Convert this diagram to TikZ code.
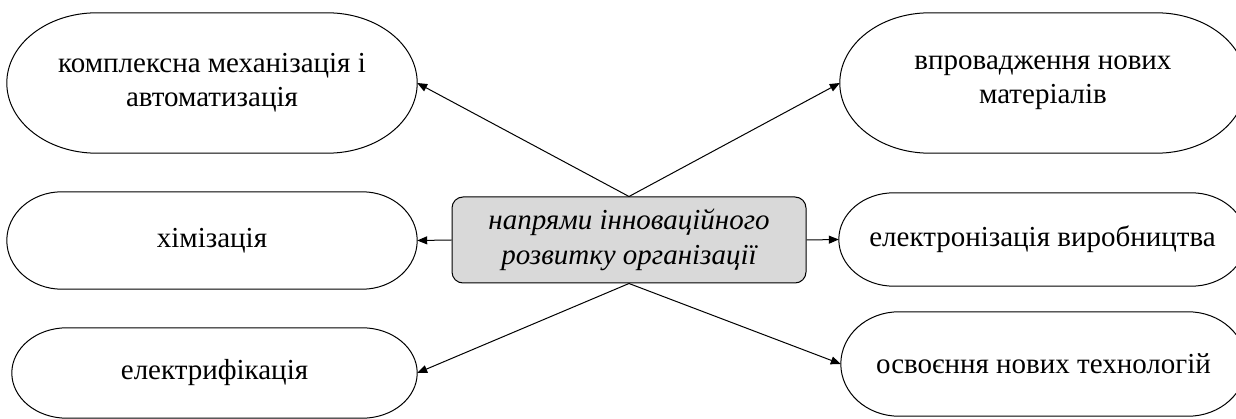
\documentclass[tikz,border=0pt]{standalone}
\usepackage{fontspec}
\setmainfont{Liberation Serif}
\usetikzlibrary{arrows.meta,calc}
\newcommand{\pillshape}[2]{%
  \draw[pillline] let \p1=(#1.north west), \p2=(#1.south east) in
    ($(\x1,\y1)+(#2,0pt)$) -- ($(\x2,\y1)-(#2,0pt)$)
    arc[start angle=90,end angle=-90,x radius=#2,y radius={(\y1-\y2)/2}]
    -- ($(\x1,\y2)+(#2,0pt)$)
    arc[start angle=270,end angle=90,x radius=#2,y radius={(\y1-\y2)/2}]
    -- cycle;}
\begin{document}
\begin{tikzpicture}[x=1pt,y=-1pt,
  pillline/.style={line width=1pt,draw=black},
  pill/.style={inner sep=0pt,align=center,font=\fontsize{29}{34}\selectfont},
  hub/.style={draw=black,line width=1pt,fill=black!15,rounded corners=11pt,inner sep=0pt,
    minimum width=354pt,minimum height=86pt,align=center,font=\fontsize{29}{35}\selectfont\itshape},
  link/.style={line width=1pt,-{Triangle[length=10pt,width=8pt]}}]
\useasboundingbox (0,0) rectangle (1236,419);
\node[hub] (c) at (629,240) {напрями інноваційного\\розвитку організації};
\node[pill,minimum width=410pt,minimum height=140pt] (tl) at (212,83) {комплексна механізація і\\автоматизація};
\node[pill,minimum width=410pt,minimum height=97pt] (ml) at (212,240.5) {хімізація};
\node[pill,minimum width=405pt,minimum height=90pt] (bl) at (214.5,373) {електрифікація};
\node[pill,minimum width=406pt,minimum height=140pt] (tr) at (1043,83) {впровадження нових\\матеріалів};
\node[pill,minimum width=407pt,minimum height=93pt] (mr) at (1042.5,239.5) {електронізація виробництва};
\node[pill,minimum width=405pt,minimum height=104pt] (br) at (1043.5,364) {освоєння нових технологій};
\pillshape{tl}{90pt}
\pillshape{ml}{55pt}
\pillshape{bl}{55pt}
\pillshape{tr}{90pt}
\pillshape{mr}{55pt}
\pillshape{br}{58pt}
\draw[link] (c.north) -- (tl.east);
\draw[link] (c.north) -- (tr.west);
\draw[link] (c.west) -- (ml.east);
\draw[link] (c.east) -- (mr.west);
\draw[link] (c.south) -- (bl.east);
\draw[link] (c.south) -- (br.west);
\end{tikzpicture}
\end{document}
